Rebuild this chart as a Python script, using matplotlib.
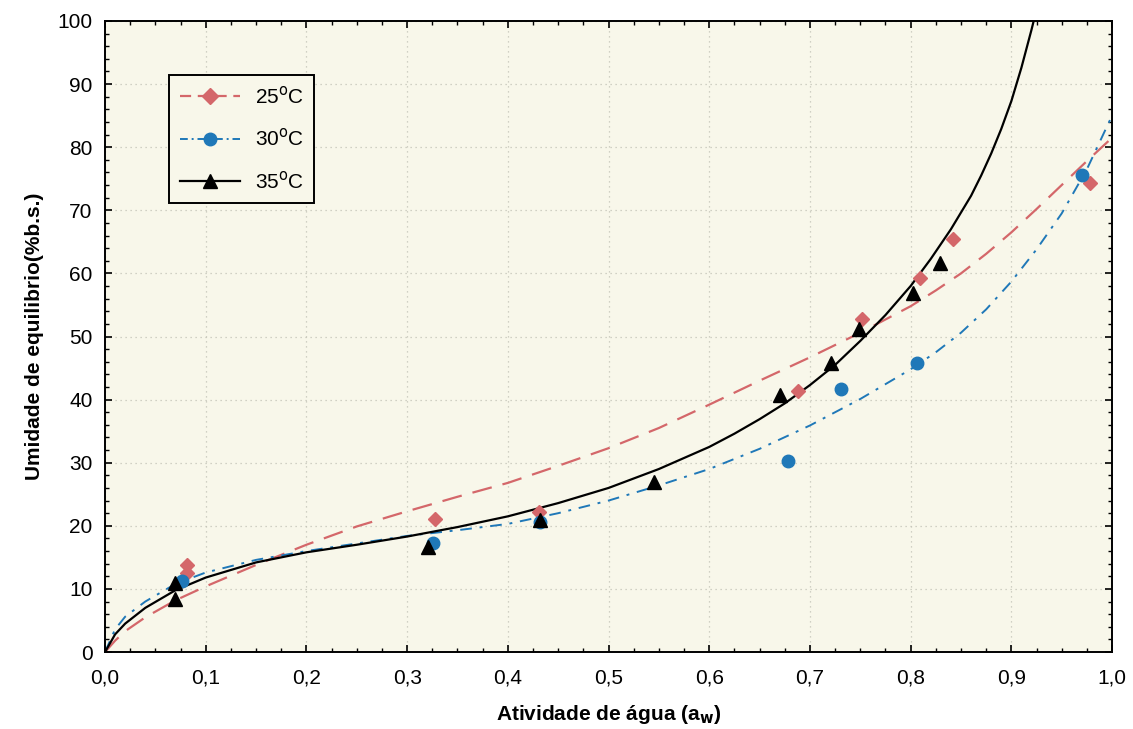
import matplotlib
matplotlib.use("Agg")
import matplotlib.pyplot as plt
from matplotlib.ticker import MultipleLocator

# ---- data ----
x25 = [0.081, 0.081, 0.328, 0.431, 0.688, 0.752, 0.809, 0.842, 0.978]
y25 = [13.8, 12.5, 21.1, 22.2, 41.4, 52.8, 59.3, 65.5, 74.3]
x30 = [0.076, 0.326, 0.432, 0.678, 0.731, 0.806, 0.970]
y30 = [11.3, 17.3, 20.6, 30.3, 41.7, 45.8, 75.6]
x35 = [0.0695, 0.0695, 0.321, 0.432, 0.545, 0.670, 0.721, 0.749, 0.802, 0.829]
y35 = [10.9, 8.4, 16.6, 20.9, 26.9, 40.7, 45.8, 51.2, 56.9, 61.6]

# fitted curves
cx25 = [0, 0.01, 0.02, 0.04, 0.07, 0.1, 0.15, 0.2, 0.25, 0.3, 0.35, 0.4, 0.45,
        0.5, 0.55, 0.6, 0.65, 0.7, 0.75, 0.8, 0.825, 0.85, 0.875, 0.9, 0.925,
        0.95, 0.975, 1.0]
cy25 = [0, 1.8, 3.3, 5.5, 8.2, 10.4, 13.8, 17.0, 19.9, 22.3, 24.6, 26.8, 29.5,
        32.3, 35.5, 39.2, 43.0, 46.7, 50.6, 54.8, 57.3, 60.0, 63.1, 66.5, 70.2,
        74.0, 77.8, 81.5]
cx30 = [0, 0.01, 0.02, 0.04, 0.07, 0.1, 0.15, 0.2, 0.25, 0.3, 0.35, 0.4, 0.45,
        0.5, 0.55, 0.6, 0.65, 0.7, 0.75, 0.8, 0.825, 0.85, 0.875, 0.9, 0.925,
        0.95, 0.975, 1.0]
cy30 = [0, 3.6, 5.6, 8.0, 10.8, 12.6, 14.6, 16.0, 17.2, 18.4, 19.3, 20.3, 22.0,
        24.0, 26.4, 29.0, 32.2, 35.9, 40.1, 44.8, 47.5, 50.6, 54.3, 58.7, 63.8,
        69.5, 76.5, 85.0]
cx35 = [0, 0.01, 0.02, 0.04, 0.07, 0.1, 0.15, 0.2, 0.25, 0.3, 0.35, 0.4, 0.45,
        0.5, 0.55, 0.6, 0.625, 0.65, 0.675, 0.7, 0.725, 0.75, 0.775, 0.8, 0.82,
        0.84, 0.86, 0.87, 0.88, 0.89, 0.9, 0.91, 0.92, 0.925]
cy35 = [0, 2.8, 4.5, 7.0, 9.8, 11.8, 14.2, 15.8, 17.0, 18.3, 19.8, 21.5, 23.6,
        26.0, 29.0, 32.5, 34.6, 36.9, 39.4, 42.3, 45.5, 49.3, 53.4, 58.0, 62.3,
        67.0, 72.3, 75.5, 79.0, 82.9, 87.3, 92.6, 98.6, 101.8]

xticks = [0.0, 0.1, 0.2, 0.3, 0.4, 0.5, 0.6, 0.7, 0.8, 0.9, 1.0]
xticklabels = ["0,0", "0,1", "0,2", "0,3", "0,4", "0,5", "0,6", "0,7", "0,8", "0,9", "1,0"]
yticks = [0, 10, 20, 30, 40, 50, 60, 70, 80, 90, 100]
labels = ["25$^{\\mathrm{o}}$C", "30$^{\\mathrm{o}}$C", "35$^{\\mathrm{o}}$C"]

RED = "#d4676a"
BLUE = "#1f78b8"
BLACK = "#000000"
BG = "#f8f7ea"

fig = plt.figure(figsize=(11.33, 7.29), dpi=100)
ax = fig.add_axes([0.0927, 0.1056, 0.8888, 0.8656])
ax.set_facecolor(BG)

ax.plot(cx25, cy25, color=RED, lw=1.6, dashes=(9, 5), zorder=2)
ax.plot(cx30, cy30, color=BLUE, lw=1.4, dashes=(6, 4, 1.5, 4), zorder=2)
ax.plot(cx35, cy35, color=BLACK, lw=1.6, zorder=2)

ax.plot(x25, y25, linestyle="none", marker="D", ms=7.5, color=RED, mec=RED, zorder=3)
ax.plot(x30, y30, linestyle="none", marker="o", ms=9, color=BLUE, mec=BLUE, zorder=3)
ax.plot(x35, y35, linestyle="none", marker="^", ms=10, color=BLACK, zorder=4)

# legend proxies
h1, = ax.plot([], [], color=RED, lw=1.6, dashes=(5, 3), marker="D", ms=8)
h2, = ax.plot([], [], color=BLUE, lw=1.4, dashes=(4, 2, 1, 2), marker="o", ms=9)
h3, = ax.plot([], [], color=BLACK, lw=1.6, marker="^", ms=10)
leg = ax.legend([h1, h2, h3], labels, loc="upper left",
                bbox_to_anchor=(0.064, 0.915), frameon=True, fancybox=False,
                edgecolor="black", facecolor=BG, framealpha=1,
                prop={"family": "Liberation Sans", "size": 15},
                handlelength=2.9, labelspacing=1.0, borderpad=0.5,
                handletextpad=0.7, borderaxespad=0.0)
leg.get_frame().set_linewidth(1.4)

ax.set_xlim(0, 1.0)
ax.set_ylim(0, 100)
ax.set_xticks(xticks)
ax.set_xticklabels(xticklabels)
ax.set_yticks(yticks)
ax.xaxis.set_minor_locator(MultipleLocator(0.025))
ax.yaxis.set_minor_locator(MultipleLocator(2))
ax.tick_params(which="both", direction="in", top=True, right=True, color="black")
ax.tick_params(which="major", length=5, width=1.2)
ax.tick_params(which="minor", length=3, width=1.0)
ax.tick_params(axis="x", which="major", pad=12)
ax.tick_params(axis="y", which="major", pad=9)
for lab in ax.get_xticklabels():
    lab.set_fontfamily(["Liberation Sans Narrow", "Liberation Sans"])
    lab.set_fontsize(15)
for lab in ax.get_yticklabels():
    lab.set_fontfamily("Liberation Sans")
    lab.set_fontsize(15)

ax.grid(True, which="major", linestyle=(0, (1, 3)), color="#c4c4b8", lw=0.9)
ax.set_axisbelow(True)
for s in ax.spines.values():
    s.set_linewidth(1.4)

ax.set_xlabel("Atividade de água (a$_{\\mathbf{w}}$)",
              fontfamily=["Liberation Sans Narrow", "Liberation Sans"],
              fontweight="bold", fontsize=15, labelpad=11)
ax.set_ylabel("Umidade de equilibrio(%b.s.)",
              fontfamily=["Liberation Sans Narrow", "Liberation Sans"],
              fontweight="bold", fontsize=15, labelpad=10)

fig.savefig("out.png", dpi=100, facecolor="white")
